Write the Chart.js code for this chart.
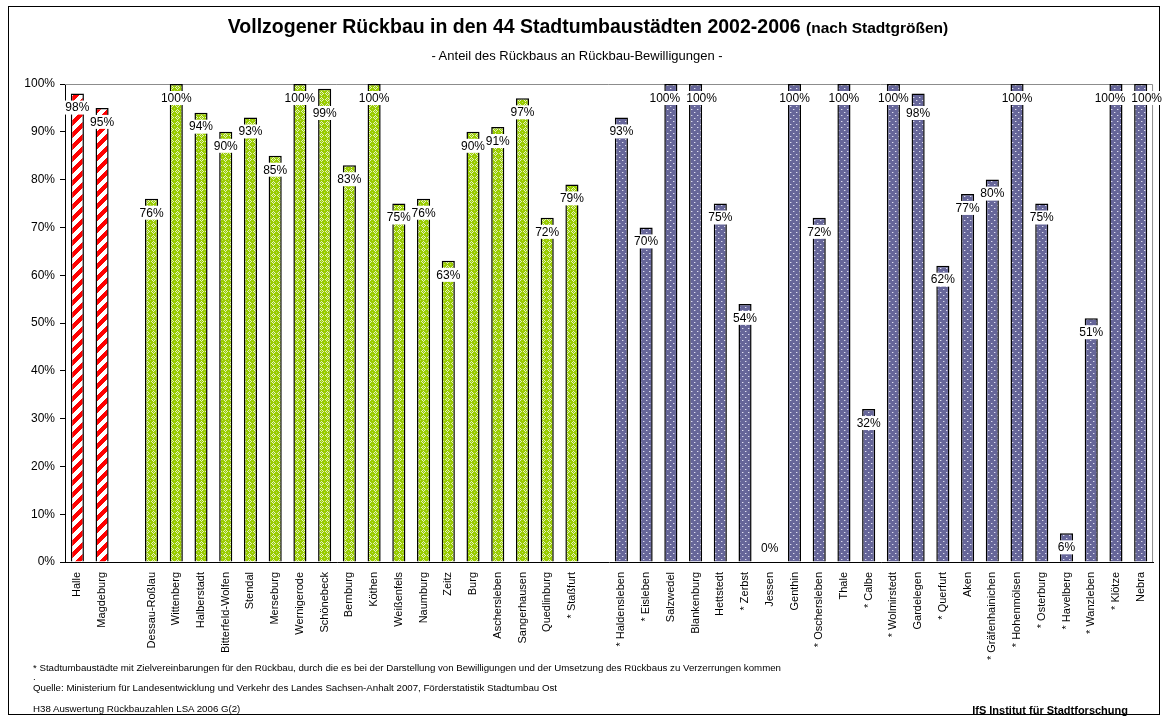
<!DOCTYPE html>
<html lang="de">
<head>
<meta charset="utf-8">
<title>Vollzogener Rückbau in den 44 Stadtumbaustädten 2002-2006</title>
<script src="https://cdn.jsdelivr.net/npm/chart.js@4.4.1/dist/chart.umd.min.js"></script>
<style>
  html, body { margin: 0; padding: 0; background: #fff; }
  #page { position: relative; width: 1164px; height: 718px; overflow: hidden;
          font-family: "Liberation Sans", Arial, sans-serif; color: #000; }
  #frame { position: absolute; left: 8px; top: 6px; width: 1150px; height: 707px; border: 1px solid #000; }
  #chart { position: absolute; left: 0; top: 0; }
  .t { position: absolute; white-space: nowrap; }
  #title { left: 0; width: 1176px; top: 15px; text-align: center; font-size: 19.5px; line-height: 22px; font-weight: bold; }
  #title small { font-size: 15.5px; }
  #subtitle { left: 0; width: 1154px; top: 48px; text-align: center; font-size: 13px; line-height: 15px; }
  .foot { left: 33px; font-size: 9.7px; line-height: 11px; }
  #inst { right: 36px; top: 704px; font-size: 11px; line-height: 12px; font-weight: bold; }
</style>
</head>
<body>
<div id="page">
  <div id="frame"></div>
  <canvas id="chart" width="1164" height="718"></canvas>
  <div class="t" id="title">Vollzogener Rückbau in den 44 Stadtumbaustädten 2002-2006 <small>(nach Stadtgrößen)</small></div>
  <div class="t" id="subtitle">- Anteil des Rückbaus an Rückbau-Bewilligungen -</div>
  <div class="t foot" style="top:662px">* Stadtumbaustädte mit Zielvereinbarungen für den Rückbau, durch die es bei der Darstellung von Bewilligungen und der Umsetzung des Rückbaus zu Verzerrungen kommen</div>
  <div class="t foot" style="top:671px">.</div>
  <div class="t foot" style="top:682px">Quelle: Ministerium für Landesentwicklung und Verkehr des Landes Sachsen-Anhalt 2007, Förderstatistik Stadtumbau Ost</div>
  <div class="t foot" style="top:703px">H38 Auswertung Rückbauzahlen LSA 2006 G(2)</div>
  <div class="t" id="inst">IfS Institut für Stadtforschung</div>
</div>
<script>
// Share of completed demolition in approved demolition, per town (percent).
// Towns are grouped by size; "*" marks towns with target agreements.
const largeTowns  = ['Halle', 'Magdeburg'];
const largeShares = [98, 95];

const mediumTowns  = ['Dessau-Roßlau', 'Wittenberg', 'Halberstadt', 'Bitterfeld-Wolfen', 'Stendal',
                      'Merseburg', 'Wernigerode', 'Schönebeck', 'Bernburg', 'Köthen', 'Weißenfels',
                      'Naumburg', 'Zeitz', 'Burg', 'Aschersleben', 'Sangerhausen', 'Quedlinburg', '* Staßfurt'];
const mediumShares = [76, 100, 94, 90, 93, 85, 100, 99, 83, 100, 75, 76, 63, 90, 91, 97, 72, 79];

const smallTowns  = ['* Haldensleben', '* Eisleben', 'Salzwedel', 'Blankenburg', 'Hettstedt', '* Zerbst',
                     'Jessen', 'Genthin', '* Oschersleben', 'Thale', '* Calbe', '* Wolmirstedt', 'Gardelegen',
                     '* Querfurt', 'Aken', '* Gräfenhainichen', '* Hohenmölsen', '* Osterburg', '* Havelberg',
                     '* Wanzleben', '* Klötze', 'Nebra'];
const smallShares = [93, 70, 100, 100, 75, 54, 0, 100, 72, 100, 32, 100, 98, 62, 77, 80, 100, 75, 6, 51, 100, 100];

const yTicks = [0, 10, 20, 30, 40, 50, 60, 70, 80, 90, 100];

// ---- fill patterns -------------------------------------------------------
function makePattern(size, paint) {
  const c = document.createElement('canvas');
  c.width = size; c.height = size;
  const g = c.getContext('2d');
  paint(g, size);
  return g.createPattern(c, 'repeat');
}
// red/white upward diagonal stripes
const stripeRed = makePattern(12, (g, s) => {
  g.fillStyle = '#fff'; g.fillRect(0, 0, s, s);
  g.fillStyle = '#ff0000';
  for (let y = 0; y < s; y++) for (let x = 0; x < s; x++) {
    if ((x + y) % s < s / 2) g.fillRect(x, y, 1, 1);
  }
});
// yellow-green with a light lattice
const latticeGreen = makePattern(6, (g, s) => {
  g.fillStyle = '#99cc00'; g.fillRect(0, 0, s, s);
  g.fillStyle = 'rgba(255,255,255,0.75)';
  [[3,1],[2,2],[4,2],[1,3],[5,3],[2,4],[4,4],[3,5]].forEach(([x, y]) => g.fillRect(x, y, 1, 1));
  g.fillStyle = 'rgba(255,255,255,0.35)';
  [[0,0],[3,3]].forEach(([x, y]) => g.fillRect(x, y, 1, 1));
});
// slate blue with white dots
const dottedBlue = makePattern(6, (g, s) => {
  g.fillStyle = '#666699'; g.fillRect(0, 0, s, s);
  g.fillStyle = 'rgba(235,235,250,0.9)';
  g.fillRect(1, 1, 1, 1); g.fillRect(4, 4, 1, 1);
  g.fillStyle = 'rgba(235,235,250,0.35)';
  g.fillRect(2, 1, 1, 1); g.fillRect(5, 4, 1, 1);
});

// ---- assemble categories with a blank slot between size groups -----------
const categories = [...largeTowns, '', ...mediumTowns, '', ...smallTowns];
const shares     = [...largeShares, null, ...mediumShares, null, ...smallShares];
const fills      = [...largeTowns.map(() => stripeRed), null,
                    ...mediumTowns.map(() => latticeGreen), null,
                    ...smallTowns.map(() => dottedBlue)];

const FONT = '"Liberation Sans", Arial, sans-serif';
Chart.defaults.font.family = FONT;
Chart.defaults.color = '#000';

// gray top/right edge of the plot area
const plotFrame = {
  id: 'plotFrame',
  beforeDatasetsDraw(chart) {
    const { ctx, chartArea: a } = chart;
    ctx.save();
    ctx.strokeStyle = '#8c8c8c';
    ctx.lineWidth = 1;
    ctx.beginPath();
    ctx.moveTo(a.left, a.top + 0.5);
    ctx.lineTo(a.right - 0.5, a.top + 0.5);
    ctx.lineTo(a.right - 0.5, a.bottom);
    ctx.stroke();
    ctx.restore();
  }
};

// percentage labels on white boxes just inside the bar tops
const valueLabels = {
  id: 'valueLabels',
  afterDatasetsDraw(chart) {
    const ctx = chart.ctx;
    const meta = chart.getDatasetMeta(0);
    const data = chart.data.datasets[0].data;
    ctx.save();
    ctx.font = '12px ' + FONT;
    const items = [];
    meta.data.forEach((bar, i) => {
      const v = data[i];
      if (v === null || v === undefined) return;
      const text = v + '%';
      items.push({ x: bar.x, y: Math.min(bar.y + 14, bar.base - 14), w: ctx.measureText(text).width, text });
    });
    // keep neighbouring labels from overlapping
    for (let i = 1; i < items.length; i++) {
      const a = items[i - 1], b = items[i];
      const ox = (a.w + b.w) / 2 - (b.x - a.x);
      const dy = Math.abs(b.y - a.y);
      if (ox > 0 && dy < 14) {
        if (dy < 4) { const s = (ox + 6) / 2; a.x -= s; b.x += s; }
        else if (b.y > a.y) b.y = a.y + 15;
        else a.y = b.y + 15;
      }
    }
    ctx.textAlign = 'center';
    ctx.textBaseline = 'middle';
    items.forEach(it => {
      ctx.fillStyle = '#fff';
      ctx.fillRect(it.x - it.w / 2 - 1, it.y - 7, it.w + 2, 14);
      ctx.fillStyle = '#000';
      ctx.fillText(it.text, it.x, it.y + 0.5);
    });
    ctx.restore();
  }
};

new Chart(document.getElementById('chart'), {
  type: 'bar',
  data: {
    labels: categories,
    datasets: [{
      data: shares,
      backgroundColor: fills,
      borderColor: '#000',
      borderWidth: 1.5,
      barPercentage: 0.53,
      categoryPercentage: 1
    }]
  },
  options: {
    responsive: false,
    animation: false,
    devicePixelRatio: 1,
    layout: { padding: { left: 0, top: 84, right: 10, bottom: 0 } },
    plugins: { legend: { display: false }, tooltip: { enabled: false }, title: { display: false } },
    scales: {
      x: {
        grid: { display: false, drawTicks: false },
        border: { display: true, color: '#000', width: 1 },
        ticks: { autoSkip: false, maxRotation: 90, minRotation: 90, padding: 10, color: '#000',
                 font: { family: FONT, size: 11 } },
        afterFit(s) { s.height = 156; }
      },
      y: {
        min: yTicks[0],
        max: yTicks[yTicks.length - 1],
        afterBuildTicks(s) { s.ticks = yTicks.map(v => ({ value: v })); },
        grid: { drawOnChartArea: false, drawTicks: true, tickLength: 5, color: '#000' },
        border: { display: true, color: '#000', width: 1 },
        ticks: { padding: 5, color: '#000', font: { family: FONT, size: 12 }, callback: v => v + '%' },
        afterFit(s) { s.width = 65; }
      }
    }
  },
  plugins: [plotFrame, valueLabels]
});
</script>
</body>
</html>
